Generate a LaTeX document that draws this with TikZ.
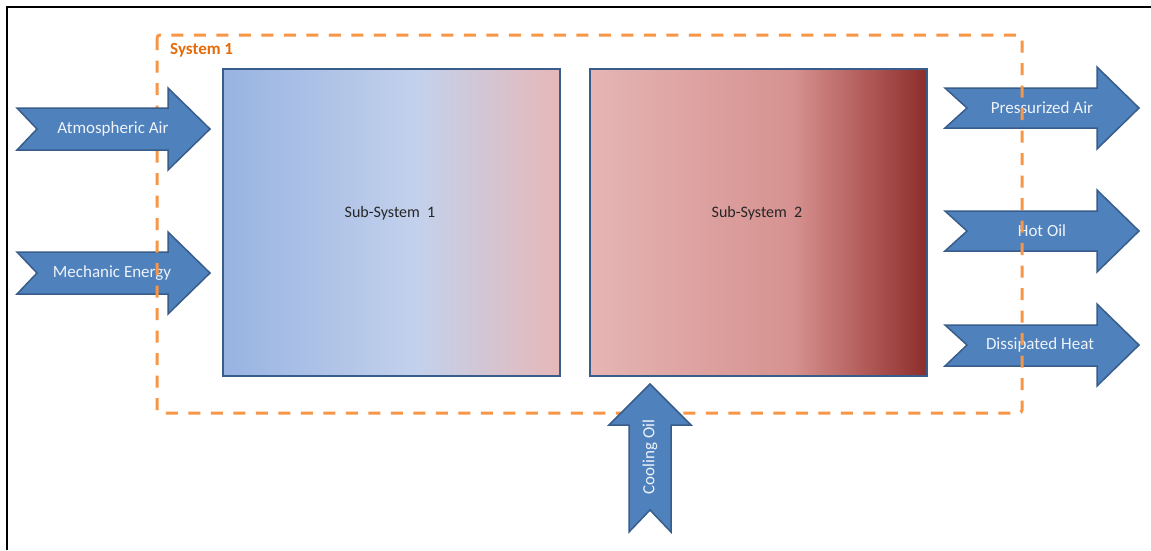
\documentclass[tikz,border=0pt]{standalone}
\usepackage{fontspec}
\setmainfont{Carlito}
\definecolor{arrowfill}{HTML}{4F81BD}
\definecolor{arrowdraw}{HTML}{385D8A}
\definecolor{sysorange}{HTML}{F79646}
\definecolor{systext}{HTML}{E46C0A}
\definecolor{lighttext}{HTML}{EEF3FA}
\definecolor{darktext}{HTML}{262626}
\definecolor{sa}{HTML}{98B3E2}
\definecolor{sb}{HTML}{C3D1EC}
\definecolor{sc}{HTML}{E6B8B8}
\definecolor{sd}{HTML}{E5B5B4}
\definecolor{se}{HTML}{D69290}
\definecolor{sf}{HTML}{B86462}
\definecolor{sg}{HTML}{8C2D2B}
\pgfdeclarehorizontalshading{ssone}{100bp}{color(0bp)=(sa); color(25bp)=(sa); color(54bp)=(sb); color(75bp)=(sc); color(100bp)=(sc)}
\pgfdeclarehorizontalshading{sstwo}{100bp}{color(0bp)=(sd); color(25bp)=(sd); color(55bp)=(se); color(64bp)=(sf); color(75bp)=(sg); color(100bp)=(sg)}
\tikzset{
  flow/.style={fill=arrowfill, draw=arrowdraw, line width=1.5pt, line join=miter},
  flowtext/.style={text=lighttext, font=\fontsize{17}{19}\selectfont, inner sep=0pt},
  subbox/.style={draw=arrowdraw, line width=2pt, inner sep=0pt},
  subtext/.style={text=darktext, font=\fontsize{16}{18}\selectfont, inner sep=0pt},
  sysline/.style={draw=sysorange, line width=3pt, dash pattern=on 12pt off 10.5pt, rounded corners=3pt},
}
\begin{document}
\begin{tikzpicture}[x=1pt,y=-1pt]
\useasboundingbox (0,0) rectangle (1151,550);
\fill[white] (0,0) rectangle (1151,550);
% frame
\draw[line width=2pt] (7,550) -- (7,7) -- (1151,7);
% sub-system boxes
\node[subbox, shading=ssone, minimum width=337pt, minimum height=307pt] (s1) at (391.5,222.5) {};
\node[subbox, shading=sstwo, minimum width=337pt, minimum height=307pt] (s2) at (758.5,222.5) {};
\node[subtext] (s1t) at (390,213) {Sub-System\ \ 1};
\node[subtext] (s2t) at (757,213) {Sub-System\ \ 2};
% arrows under the system boundary
\draw[flow] (17,252) -- (168,252) -- (168,232) -- (210,273) -- (168,314) -- (168,294) -- (17,294) -- (37,273) -- cycle;
\node[flowtext] (me) at (112,273) {Mechanic Energy};
\draw[flow] (945,88) -- (1097,88) -- (1097,67) -- (1139,108) -- (1097,149) -- (1097,128) -- (945,128) -- (967,108) -- cycle;
\node[flowtext] (pa) at (1042,108) {Pressurized Air};
\draw[flow] (945,211) -- (1097,211) -- (1097,190) -- (1139,231) -- (1097,272) -- (1097,251) -- (945,251) -- (967,231) -- cycle;
\node[flowtext] (ho) at (1042,231) {Hot Oil};
\draw[flow] (945,325) -- (1097,325) -- (1097,304) -- (1139,345) -- (1097,386) -- (1097,366) -- (945,366) -- (967,345) -- cycle;
\node[flowtext] (dh) at (1040,345) {Dissipated Heat};
% system boundary
\draw[sysline] (157,35) rectangle (1022,413);
\node[text=systext, font=\fontsize{17}{19}\selectfont\bfseries, anchor=west, inner sep=0pt] (sys) at (170,50) {System 1};
% arrows over the system boundary
\draw[flow] (17,108) -- (168,108) -- (168,88) -- (210,129) -- (168,170) -- (168,150) -- (17,150) -- (37,129) -- cycle;
\node[flowtext] (aa) at (113,129) {Atmospheric Air};
\draw[flow] (629,532) -- (629,425) -- (609,425) -- (650,384) -- (691,425) -- (671,425) -- (671,532) -- (650,510) -- cycle;
\node[flowtext, rotate=90] (co) at (650,457) {Cooling Oil};
\end{tikzpicture}
\end{document}
